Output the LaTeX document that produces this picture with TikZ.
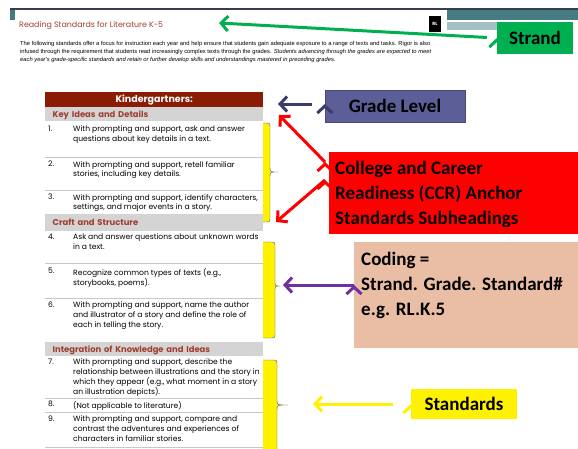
\documentclass[tikz,border=0pt]{standalone}
\usepackage{fontspec}
\setmainfont{Carlito}
\newfontfamily\docfont{Poppins}
\newfontfamily\parafont{Liberation Sans}
\usetikzlibrary{arrows.meta,positioning,calc}
\definecolor{topline}{RGB}{58,60,78}
\definecolor{bandteal}{RGB}{68,124,130}
\definecolor{bandlight}{RGB}{165,192,196}
\definecolor{headred}{RGB}{139,28,4}
\definecolor{subred}{RGB}{160,62,48}
\definecolor{subgray}{RGB}{212,212,212}
\definecolor{sepgray}{RGB}{200,200,200}
\definecolor{gradeblue}{RGB}{92,94,152}
\definecolor{navyline}{RGB}{58,60,108}
\definecolor{strandgreen}{RGB}{0,176,80}
\definecolor{codepeach}{RGB}{234,190,164}
\definecolor{codepurple}{RGB}{112,48,160}
\definecolor{bracegray}{RGB}{90,90,120}
\newcommand{\stdbrace}[5]{% top, bottom, middle, body x, tip x
  \fill[yellow] (263,#1) -- (#4-5,#1) .. controls (#4,#1) .. (#4,#1+5) -- (#4,#3-5)
    .. controls (#4,#3) .. (#5,#3) .. controls (#4,#3) .. (#4,#3+5) -- (#4,#2-5)
    .. controls (#4,#2) .. (#4-5,#2) -- (263,#2) -- cycle;
  \draw[bracegray, thin] (263,#1) -- (#4-5,#1) .. controls (#4,#1) .. (#4,#1+5) -- (#4,#3-5)
    .. controls (#4,#3) .. (#5,#3) .. controls (#4,#3) .. (#4,#3+5) -- (#4,#2-5)
    .. controls (#4,#2) .. (#4-5,#2) -- (263,#2);
}
\begin{document}
\begin{tikzpicture}[x=1pt, y=-1pt,
  item/.style={anchor=north west, align=left, inner sep=0, font=\docfont\fontsize{7.6}{9.8}\selectfont},
  num/.style={anchor=north west, inner sep=0, font=\docfont\fontsize{7.6}{9.8}\selectfont},
  subhead/.style={fill=subgray, minimum width=218pt, inner sep=0, anchor=north west, text=subred, font=\docfont\bfseries\fontsize{8.4}{9}\selectfont, text depth=0, align=left},
  sep/.style={sepgray, line width=0.8pt},
  para/.style={anchor=base west, inner sep=0, font=\parafont\fontsize{5.8}{6}\selectfont},
  label/.style={font=\bfseries\fontsize{19}{25}\selectfont, text=black, inner sep=0},
  tip/.style={-{Straight Barb[length=7pt, width=15pt]}, line width=3pt}]
\useasboundingbox (0,0) rectangle (578,448);

% page header
\fill[topline] (10,8) rectangle (578,10);
\fill[bandteal] (10,10) rectangle (15,20);
\fill[bandteal] (447,10) rectangle (578,20);
\fill[bandlight] (447,22) rectangle (497,30);
\node[fill=black, text=white, minimum width=12pt, minimum height=16pt, inner sep=0, font=\docfont\bfseries\fontsize{4.5}{5}\selectfont] (rl) at (435,24) {RL};
\node[anchor=base west, inner sep=0, text=subred, font=\docfont\fontsize{7.9}{10}\selectfont] (title) at (19,27) {Reading Standards for Literature K-5};
\node[para] (para1) at (20,45) {The following standards offer a focus for instruction each year and help ensure that students gain adequate exposure to a range of texts and tasks. Rigor is also};
\node[para] (para2) at (20,53) {infused through the requirement that students read increasingly complex texts through the grades. \textit{Students advancing through the grades are expected to meet}};
\node[para] (para3) at (20,61) {\textit{each year's grade-specific standards and retain or further develop skills and understandings mastered in preceding grades.}};

% standards table
\node[fill=headred, text=white, minimum width=218pt, minimum height=15pt, inner sep=0, anchor=north west, font=\docfont\bfseries\fontsize{9.5}{10}\selectfont] (kinder) at (45,92) {Kindergartners:};
\node[subhead, minimum height=14pt, text width=213pt] (keyideas) at (45,107) {\hspace*{5pt}Key Ideas and Details};
\node[num] (n1) at (48,126) {1.};
\node[item] (s1) at (73,126) {With prompting and support, ask and answer\\questions about key details in a text.};
\draw[sep] (45,157) -- (263,157);
\node[num] (n2) at (48,161) {2.};
\node[item] (s2) at (73,161) {With prompting and support, retell familiar\\stories, including key details.};
\draw[sep] (45,190) -- (263,190);
\node[num] (n3) at (48,194) {3.};
\node[item] (s3) at (73,194) {With prompting and support, identify characters,\\settings, and major events in a story.};
\node[subhead, minimum height=17pt, text width=213pt] (craft) at (45,214) {\hspace*{5pt}Craft and Structure};
\node[num] (n4) at (48,234) {4.};
\node[item] (s4) at (73,234) {Ask and answer questions about unknown words\\in a text.};
\draw[sep] (45,263) -- (263,263);
\node[num] (n5) at (48,268) {5.};
\node[item] (s5) at (73,268) {Recognize common types of texts (e.g.,\\storybooks, poems).};
\draw[sep] (45,298) -- (263,298);
\node[num] (n6) at (48,302) {6.};
\node[item] (s6) at (73,302) {With prompting and support, name the author\\and illustrator of a story and define the role of\\each in telling the story.};
\node[subhead, minimum height=14pt, text width=213pt] (integ) at (45,342) {\hspace*{5pt}Integration of Knowledge and Ideas};
\node[num] (n7) at (48,359) {7.};
\node[item] (s7) at (73,359) {With prompting and support, describe the\\relationship between illustrations and the story in\\which they appear (e.g., what moment in a story\\an illustration depicts).};
\draw[sep] (45,398) -- (263,398);
\node[num] (n8) at (48,401) {8.};
\node[item] (s8) at (73,401) {(Not applicable to literature)};
\draw[sep] (45,412) -- (263,412);
\node[num] (n9) at (48,416) {9.};
\node[item] (s9) at (73,416) {With prompting and support, compare and\\contrast the adventures and experiences of\\characters in familiar stories.};
\draw[sep] (45,447) -- (263,447);

% braces
\stdbrace{123}{222}{172}{270}{278}
\stdbrace{242}{338}{286}{275}{280}
\stdbrace{360}{462}{405}{277}{288}

% call-outs
\node[fill=strandgreen, minimum width=76pt, minimum height=32pt, label] (strand) at (535,38) {Strand};
\node[fill=gradeblue, draw=gradeblue!80!black, minimum width=140pt, minimum height=32pt, label] (grade) at (395,106) {Grade Level};
\node[fill=red, minimum width=249pt, minimum height=82pt, anchor=north west] (ccr) at (329,152) {};
\node[label, anchor=north west, align=left] (ccrtext) at (335,161) {College and Career\\Readiness (CCR) Anchor\\Standards Subheadings};
\node[fill=codepeach, minimum width=224pt, minimum height=106pt, anchor=north west] (coding) at (354,242) {};
\node[label, anchor=north west, align=left] (codetext) at (361,252) {Coding =\\Strand. Grade. Standard\#\\e.g. RL.K.5};
\node[fill=yellow, minimum width=106pt, minimum height=30pt, label] (standards) at (464,404) {Standards};

\coordinate (strandtip) at (219,23);
\coordinate (gradetip) at (278,104);
\coordinate (keytip) at (279,115);
\coordinate (crafttip) at (276,222);
\coordinate (codetip) at (283,285);
\coordinate (stdtip) at (313,404);

\path [tip, draw=strandgreen, shorten <=10pt] (strand.west) edge (strandtip);
\path [tip, draw=navyline, shorten <=13pt] (grade.west |- gradetip) edge (gradetip);
\path [tip, draw=red] ([shift={(-4,10)}]ccr.north west) edge (keytip);
\path [tip, draw=red] ([shift={(-4,28)}]ccr.north west) edge (crafttip);
\path [tip, draw=codepurple] (coding.west |- codetip) edge (codetip);
\path [tip, draw=yellow, shorten <=18pt] (standards.west) edge (stdtip);
\end{tikzpicture}
\end{document}
